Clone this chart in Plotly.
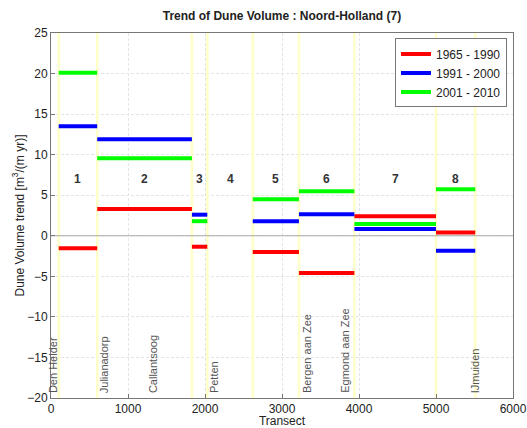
import plotly.graph_objects as go

# Section boundaries (transect numbers)
boundaries = [100, 600, 1830, 2030, 2620, 3220, 3940, 5000, 5510]
section_labels = ["1", "2", "3", "4", "5", "6", "7", "8"]

# Trend values per section (None = no data)
trend_1965_1990 = [-1.55, 3.3, -1.35, None, -2.0, -4.6, 2.4, 0.4]
trend_1991_2000 = [13.5, 11.9, 2.6, None, 1.8, 2.65, 0.85, -1.85]
trend_2001_2010 = [20.1, 9.55, 1.8, None, 4.5, 5.5, 1.45, 5.75]

series_names = ["1965 - 1990", "1991 - 2000", "2001 - 2010"]
series_colors = ["#ff0000", "#0000ff", "#00ff00"]

# Place names along the coast
place_names = ["Den Helder", "Julianadorp", "Callantsoog", "Petten",
               "Bergen aan Zee", "Egmond aan Zee", "IJmuiden"]
place_transects = [17, 688, 1316, 2108, 3334, 3818, 5506]

x_ticks = [0, 1000, 2000, 3000, 4000, 5000, 6000]
y_ticks = [-20, -15, -10, -5, 0, 5, 10, 15, 20, 25]

fig = go.Figure()

# Yellow boundary lines
bx, by = [], []
for b in boundaries:
    bx += [b, b, None]
    by += [-20, 25, None]
fig.add_trace(go.Scatter(x=bx, y=by, mode="lines",
                         line=dict(color="#ffffc8", width=2.5),
                         showlegend=False, hoverinfo="skip"))

# Zero line
fig.add_trace(go.Scatter(x=[0, 6000], y=[0, 0], mode="lines",
                         line=dict(color="#a8a8a8", width=1),
                         showlegend=False, hoverinfo="skip"))

for vals, name, col in zip([trend_1965_1990, trend_1991_2000, trend_2001_2010],
                           series_names, series_colors):
    xs, ys = [], []
    for i, v in enumerate(vals):
        if v is None:
            continue
        xs += [boundaries[i], boundaries[i + 1], None]
        ys += [v, v, None]
    fig.add_trace(go.Scatter(x=xs, y=ys, mode="lines", name=name,
                             line=dict(color=col, width=4)))

annotations = []
for i, lab in enumerate(section_labels):
    annotations.append(dict(x=(boundaries[i] + boundaries[i + 1]) / 2, y=7,
                            text="<b>" + lab + "</b>", showarrow=False,
                            font=dict(size=12, color="#333333",
                                      family="Liberation Sans, Arial")))
for name, t in zip(place_names, place_transects):
    annotations.append(dict(x=t, y=-19.6, text=name, showarrow=False,
                            textangle=-90, yanchor="bottom", xanchor="center",
                            font=dict(size=11, color="#555555",
                                      family="Liberation Sans, Arial")))

fig.update_layout(
    width=527, height=428,
    margin=dict(l=51, r=14, t=33, b=30),
    paper_bgcolor="white", plot_bgcolor="white",
    font=dict(family="Liberation Sans, Arial", size=12, color="#222222"),
    title=dict(text="<b>Trend of Dune Volume : Noord-Holland (7)</b>",
               x=0.535, xanchor="center", y=0.972, yanchor="top",
               font=dict(size=12, color="#222222")),
    annotations=annotations,
    legend=dict(x=0.987, y=0.985, xanchor="right", yanchor="top",
                bgcolor="white", bordercolor="#777777", borderwidth=1,
                font=dict(size=12), tracegroupgap=0, itemwidth=30),
    xaxis=dict(range=[0, 6000], tickvals=x_ticks,
               ticktext=[str(v) for v in x_ticks],
               showgrid=True, gridcolor="#e4e4e4", griddash="3px,2px",
               showline=True, linecolor="#777777", mirror=True,
               ticks="inside", ticklen=4, tickcolor="#777777",
               zeroline=False, automargin=False,
               title=dict(text="Transect", standoff=3, font=dict(size=12))),
    yaxis=dict(range=[-20, 25], tickvals=y_ticks,
               showgrid=True, gridcolor="#e4e4e4", griddash="3px,2px",
               showline=True, linecolor="#777777", mirror=True,
               ticks="inside", ticklen=4, tickcolor="#777777",
               zeroline=False, automargin=False,
               title=dict(text="Dune Volume trend [m<sup>3</sup>/(m yr)]",
                          standoff=0, font=dict(size=12))),
)

fig.write_html("out.html", config={"displayModeBar": False},
               post_script="document.body.style.margin='0';document.body.style.overflow='hidden';")
